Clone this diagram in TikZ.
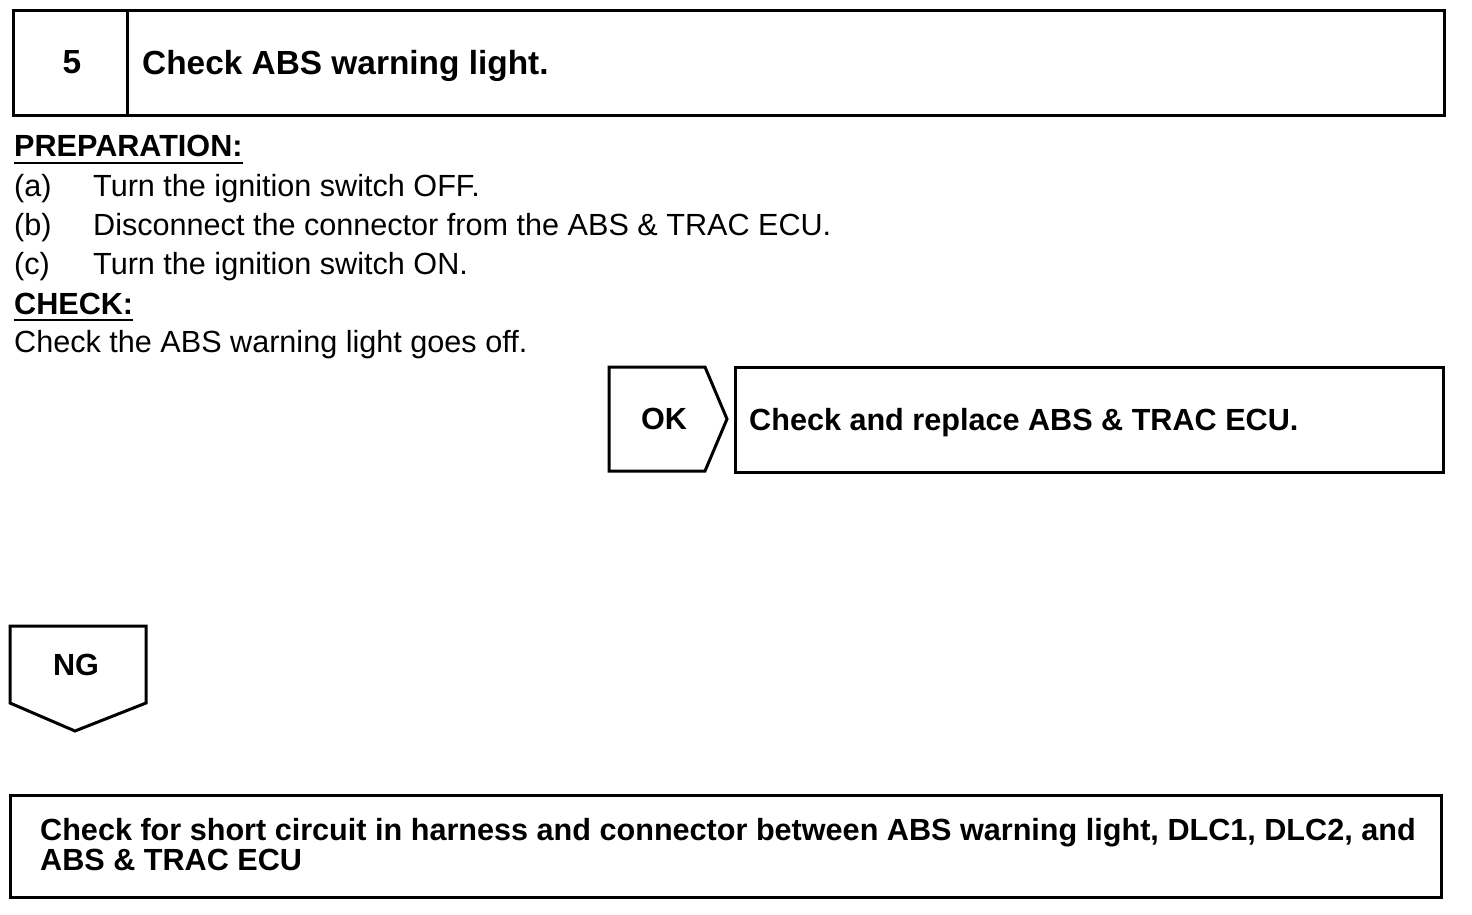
\documentclass[tikz,border=0pt]{standalone}
\usepackage{fontspec}
\setmainfont{Liberation Sans}
\begin{document}
\begin{tikzpicture}[x=1pt,y=-1pt,
  frame/.style={line width=3pt,line join=miter},
  txt/.style={inner sep=0pt,font=\fontsize{30.6}{30}\selectfont},
  btxt/.style={txt,font=\fontsize{30.6}{30}\selectfont\bfseries},
  ttxt/.style={txt,font=\fontsize{33.4}{34}\selectfont\bfseries}]
  \useasboundingbox (0,0) rectangle (1472,914);
  % step header
  \draw[frame] (13,10) rectangle (1444,115);
  \draw[frame] (127,10) -- (127,115);
  \node[ttxt,anchor=base] (num) at (72,73) {5};
  \node[ttxt,anchor=base west] (title) at (142,74) {Check ABS warning light.};
  % preparation
  \node[btxt,anchor=base west] (prep) at (14,156) {PREPARATION:};
  \draw[line width=2.2pt] ([yshift=-7pt]prep.base west) -- ([yshift=-7pt]prep.base east);
  \foreach \lab/\txt [count=\i] in {(a)/{Turn the ignition switch OFF.},
      (b)/{Disconnect the connector from the ABS \& TRAC ECU.},
      (c)/{Turn the ignition switch ON.}} {
    \node[txt,anchor=base west] (lab\i) at (14,157+39*\i) {\lab};
    \node[txt,anchor=base west] (item\i) at (93,157+39*\i) {\txt};
  }
  % check
  \node[btxt,anchor=base west] (chk) at (14,314) {CHECK:};
  \draw[line width=2.2pt] ([yshift=-6pt]chk.base west) -- ([yshift=-6pt]chk.base east);
  \node[txt,anchor=base west] (chktxt) at (14,352) {Check the ABS warning light goes off.};
  % OK branch
  \draw[frame] (609,367) -- (705,367) -- (727,419) -- (705,471) -- (609,471) -- cycle;
  \node[btxt] (ok) at (664,419) {OK};
  \draw[frame] (735,367) rectangle (1443,472);
  \node[btxt,anchor=base west] (oktxt) at (749,430) {Check and replace ABS \& TRAC ECU.};
  % NG branch
  \draw[frame] (10,626) -- (146,626) -- (146,703) -- (75,731) -- (10,703) -- cycle;
  \node[btxt] (ng) at (76,665) {NG};
  \draw[frame] (10,795) rectangle (1441,897);
  \node[btxt,anchor=base west] (ngtxt1) at (40,840) {Check for short circuit in harness and connector between ABS warning light, DLC1, DLC2, and};
  \node[btxt,anchor=base west] (ngtxt2) at (40,870) {ABS \& TRAC ECU};
\end{tikzpicture}
\end{document}
